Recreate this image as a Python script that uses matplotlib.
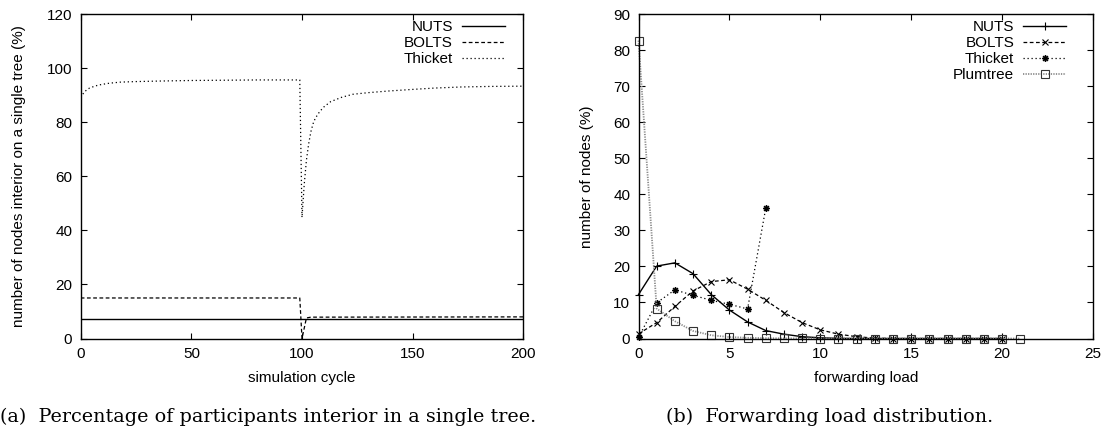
import matplotlib
matplotlib.use("Agg")
import matplotlib.pyplot as plt
from matplotlib.path import Path

# ---- (a) share of nodes that are interior in a single tree ----
nuts_cycle = [0, 200]
nuts_pct = [7.3, 7.3]

bolts_cycle = [0, 99, 100, 102, 104, 200]
bolts_pct = [15.0, 15.0, 0.0, 7.6, 7.9, 8.0]

thicket_cycle = [0, 1, 2, 3, 4, 6, 8, 10, 13, 18, 25, 36, 50, 80, 99,
                 100, 101, 102, 103, 104, 105, 106, 108, 110, 113, 118,
                 123, 130, 139, 150, 160, 172, 185, 200]
thicket_pct = [89.2, 90.5, 91.5, 92.2, 92.7, 93.3, 93.8, 94.1, 94.5, 94.9,
               95.1, 95.3, 95.5, 95.7, 95.7,
               44.8, 57.0, 66.0, 72.0, 76.5, 79.5, 81.5, 84.0, 85.8, 87.7,
               89.3, 90.4, 91.0, 91.6, 92.2, 92.7, 93.1, 93.3, 93.4]

# ---- (b) forwarding load distribution ----
nuts_load = list(range(0, 21))
nuts_nodes = [12.2, 20.1, 21.0, 18.0, 12.2, 7.9, 4.6, 2.2, 1.2, 0.5, 0.2,
              0.05, 0, 0, 0, 0, 0, 0, 0, 0, 0]

bolts_load = list(range(0, 21))
bolts_nodes = [1.3, 4.4, 8.9, 13.2, 15.8, 16.3, 13.7, 10.6, 7.2, 4.4, 2.4,
               1.2, 0.5, 0.1, 0, 0, 0, 0, 0, 0, 0]

thicket_load = list(range(0, 8))
thicket_nodes = [0.3, 9.9, 13.5, 12.0, 10.6, 9.5, 8.2, 36.2]

plumtree_load = list(range(0, 22))
plumtree_nodes = [82.7, 8.3, 4.8, 2.1, 0.9, 0.4, 0.2, 0.1, 0.05, 0.02, 0,
                  0, 0, 0, 0, 0, 0, 0, 0, 0, 0, 0]

W, H = 1106, 430
SANS = "Liberation Sans"
SERIF = "DejaVu Serif"
FS = 11

plt.rcParams["font.family"] = SANS
plt.rcParams["font.size"] = FS

fig = plt.figure(figsize=(W / 100, H / 100), dpi=100)


def px_axes(x0, x1, y0, y1):
    return fig.add_axes([x0 / W, 1 - y1 / H, (x1 - x0) / W, (y1 - y0) / H])


def style(ax):
    ax.tick_params(direction="in", top=True, right=True, length=4.5,
                   width=0.8, pad=6, labelsize=FS)
    for s in ax.spines.values():
        s.set_linewidth(1.0)


# gnuplot-style asterisk: plus and cross combined
star = Path([(-1, 0), (1, 0), (0, -1), (0, 1),
             (-0.7, -0.7), (0.7, 0.7), (-0.7, 0.7), (0.7, -0.7)],
            [Path.MOVETO, Path.LINETO] * 4)

dash = (0, (3.0, 2.0))
dots = (0, (1.0, 2.2))

leg_kw = dict(loc="upper right", frameon=False, markerfirst=False,
              handlelength=2.8, handletextpad=0.6, labelspacing=0.135,
              borderpad=0, borderaxespad=0, fontsize=FS)

# ---------- left panel ----------
axa = px_axes(80.7, 523.3, 14.3, 338.5)
axa.plot(nuts_cycle, nuts_pct, color="black", lw=1.0, label="NUTS")
axa.plot(bolts_cycle, bolts_pct, color="black", lw=0.9, linestyle=dash,
         label="BOLTS")
axa.plot(thicket_cycle, thicket_pct, color="black", lw=0.9, linestyle=dots,
         label="Thicket")
axa.set_xlim(0, 200)
axa.set_ylim(0, 120)
axa.set_xticks([0, 50, 100, 150, 200])
axa.set_yticks([0, 20, 40, 60, 80, 100, 120])
style(axa)
axa.set_xlabel("simulation cycle", fontsize=FS, labelpad=7)
axa.set_ylabel("number of nodes interior on a single tree (%)", fontsize=FS,
               labelpad=15)
axa.legend(bbox_to_anchor=(0.958, 0.982), **leg_kw)

# ---------- right panel ----------
axb = px_axes(638.5, 1093, 14.3, 338.5)
axb.plot(nuts_load, nuts_nodes, color="black", lw=1.0, marker="+",
         label="NUTS", markersize=5.5, markeredgewidth=0.8)
axb.plot(bolts_load, bolts_nodes, color="black", lw=0.9, linestyle=dash,
         marker="x", label="BOLTS", markersize=5, markeredgewidth=0.8)
axb.plot(thicket_load, thicket_nodes, color="black", lw=0.9, linestyle=dots,
         marker=star, markerfacecolor="none", label="Thicket", markersize=5,
         markeredgewidth=1.1)
axb.plot(plumtree_load, plumtree_nodes, color="0.55", lw=1.3,
         linestyle=(0, (0.7, 0.7)), marker="s", markerfacecolor="none",
         markeredgecolor="0.2", label="Plumtree", markersize=5.5,
         markeredgewidth=0.8)
axb.set_xlim(0, 25)
axb.set_ylim(0, 90)
axb.set_xticks([0, 5, 10, 15, 20, 25])
axb.set_yticks(range(0, 91, 10))
style(axb)
for ln in axb.get_lines():
    ln.set_clip_on(False)
axb.set_xlabel("forwarding load", fontsize=FS, labelpad=7)
axb.set_ylabel("number of nodes (%)", fontsize=FS, labelpad=13.5)
axb.legend(bbox_to_anchor=(0.941, 0.982), **leg_kw)

# ---------- captions ----------
fig.text(268 / W, 1 - 417 / H,
         "(a)  Percentage of participants interior in a single tree.",
         family=SERIF, fontsize=13.8, ha="center", va="center")
fig.text(830 / W, 1 - 417 / H, "(b)  Forwarding load distribution.",
         family=SERIF, fontsize=13.8, ha="center", va="center")

fig.savefig("out.png", dpi=100)
